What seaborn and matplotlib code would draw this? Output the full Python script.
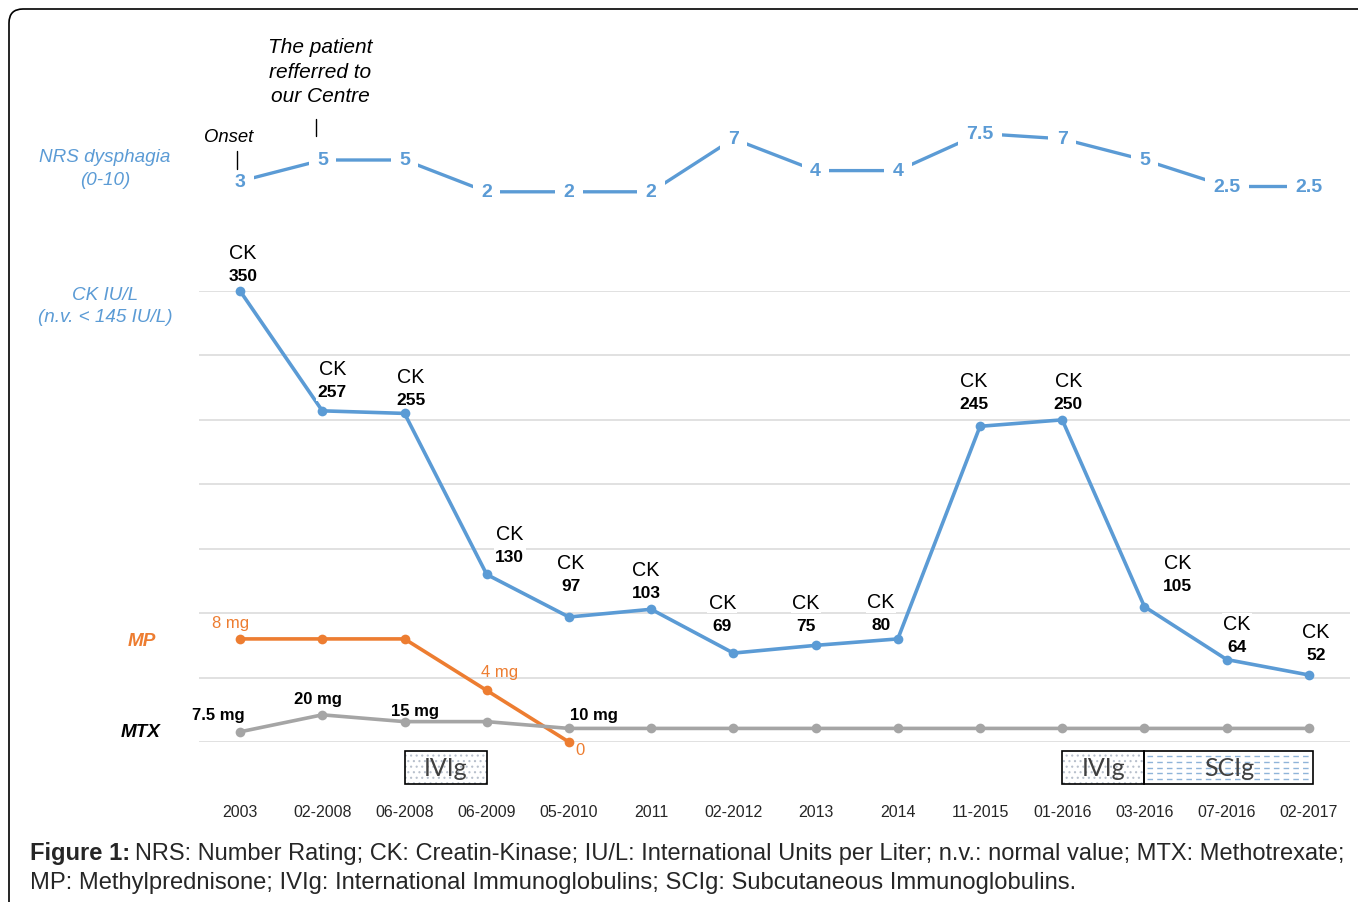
import matplotlib
matplotlib.use('Agg')
import matplotlib.pyplot as plt
import seaborn as sns
import numpy as np
from matplotlib.patches import Rectangle, FancyBboxPatch
from matplotlib.transforms import blended_transform_factory, IdentityTransform

# ====== DATA

dates = ['2003', '02-2008', '06-2008', '06-2009', '05-2010', '2011', '02-2012',
         '2013', '2014', '11-2015', '01-2016', '03-2016', '07-2016', '02-2017']
nrs = [3, 5, 5, 2, 2, 2, 7, 4, 4, 7.5, 7, 5, 2.5, 2.5]
nrs_labels = ['3', '5', '5', '2', '2', '2', '7', '4', '4', '7.5', '7', '5', '2.5', '2.5']
ck = [350, 257, 255, 130, 97, 103, 69, 75, 80, 245, 250, 105, 64, 52]
mp = [8, 8, 8, 4, 0]
mp_labels = ['8 mg', None, None, '4 mg', '0']
mtx = [7.5, 20, 15, 15, 10, 10, 10, 10, 10, 10, 10, 10, 10, 10]
mtx_labels = ['7.5 mg', '20 mg', '15 mg', None, '10 mg'] + [None] * 9
ivig_periods = [(2, 3), (10, 11)]
scig_periods = [(11, 13.05)]

# label offsets in pixels (dx, dy up)
ck_offsets = [(3, 15), (10, 19), (6, 14), (23, 18), (2, 32), (-5, 17), (-11, 28),
              (-10, 20), (-17, 14), (-6, 23), (6, 16), (33, 21), (10, 13), (7, 20)]
mp_offsets = [(-10, 16), None, None, (13, 19), (11, -8)]
mtx_offsets = [(-22, 17), (-4, 16), (10, 11), None, (25, 14)] + [None] * 9

# ====== STYLE

sns.set_style('white')
plt.rcParams['font.family'] = ['Liberation Sans', 'DejaVu Sans']
plt.rcParams['hatch.linewidth'] = 0.8

BLUE = '#5b9bd5'
ORANGE = '#ed7d31'
GREY = '#a5a5a5'
W, H = 1358, 903


def fx(px):
    return px / W


def fy(py):
    return 1 - py / H


fig = plt.figure(figsize=(W / 100, H / 100), dpi=100)

# outer frame (only top/left edge visible)
frame = FancyBboxPatch((9, -200), 2000, (H - 10) + 200, boxstyle='round,pad=0,rounding_size=14',
                       transform=IdentityTransform(), fill=False, edgecolor='black', linewidth=1.2)
fig.add_artist(frame)

x = np.arange(len(dates))

# ====== CK AXES
left, right, top, bottom = 199, 1350, 292, 743
ax = fig.add_axes([fx(left), fy(bottom), fx(right - left), (bottom - top) / H])
ax.set_xlim(-0.5, 13.5)
ax.set_ylim(0, 350)
ax.set_yticks(np.arange(0, 351, 50))
ax.set_yticklabels([])
ax.tick_params(axis='y', length=0)
ax.yaxis.grid(True, color='#d9d9d9', linewidth=1.1)
ax.set_axisbelow(True)
sns.despine(ax=ax, left=True, bottom=True)
ax.set_facecolor('none')

sns.lineplot(x=x, y=ck, ax=ax, color=BLUE, linewidth=2.6, marker='o', markersize=7,
             markeredgewidth=0, zorder=3)
ax.set_xticks(x)
ax.set_xticklabels(dates, fontsize=11.5, color='#262626')
ax.tick_params(axis='x', length=0, pad=45)
ax.set_xlabel('')
ax.set_ylabel('')

for i, v in enumerate(ck):
    dx, dy = ck_offsets[i]
    ax.annotate(str(v), (i, v), xytext=(dx, dy), textcoords='offset pixels', ha='center', va='center',
                fontsize=12.5, fontweight='bold', color='black',
                bbox=dict(facecolor='white', edgecolor='none', pad=1.0), zorder=4)
    ax.annotate('CK', (i, v), xytext=(dx, dy + 23), textcoords='offset pixels', ha='center', va='center',
                fontsize=14.2, color='black',
                bbox=dict(facecolor='white', edgecolor='none', pad=1.0), zorder=4)

# ====== MP AXES
ax_mp = ax.twinx()
ax_mp.set_ylim(0, 35)
ax_mp.axis('off')
sns.lineplot(x=x[:len(mp)], y=mp, ax=ax_mp, color=ORANGE, linewidth=2.6, marker='o', markersize=7,
             markeredgewidth=0, zorder=3)
for i, lab in enumerate(mp_labels):
    if lab is None:
        continue
    dx, dy = mp_offsets[i]
    ax_mp.annotate(lab, (i, mp[i]), xytext=(dx, dy), textcoords='offset pixels', ha='center',
                   va='center', fontsize=12, color=ORANGE)

# ====== MTX AXES
ax_mtx = ax.twinx()
ax_mtx.set_ylim(0, 332)
ax_mtx.axis('off')
sns.lineplot(x=x, y=mtx, ax=ax_mtx, color=GREY, linewidth=2.6, marker='o', markersize=7,
             markeredgewidth=0, zorder=2)
for i, lab in enumerate(mtx_labels):
    if lab is None:
        continue
    dx, dy = mtx_offsets[i]
    ax_mtx.annotate(lab, (i, mtx[i]), xytext=(dx, dy), textcoords='offset pixels', ha='center',
                    va='center', fontsize=12, fontweight='bold', color='black')

for a in (ax, ax_mp, ax_mtx):
    for ln in a.lines:
        ln.set_clip_on(False)

# ====== NRS AXES
ax_nrs = fig.add_axes([fx(left), fy(214), fx(right - left), 106 / H])
ax_nrs.set_xlim(-0.5, 13.5)
ax_nrs.set_ylim(0, 10)
ax_nrs.axis('off')
sns.lineplot(x=x, y=nrs, ax=ax_nrs, color=BLUE, linewidth=2.4)
for i, v in enumerate(nrs):
    ax_nrs.text(i, v, nrs_labels[i], ha='center', va='center', fontsize=14, fontweight='bold',
                color=BLUE, bbox=dict(facecolor='white', edgecolor='none', pad=6), zorder=4)

# ====== TREATMENT BOXES
trans = blended_transform_factory(ax.transData, fig.transFigure)
box_y, box_h = fy(785), 33 / H


def treatment_box(x0, x1, label, kind):
    if kind == 'dots':
        ax.add_patch(Rectangle((x0, box_y), x1 - x0, box_h, transform=trans, facecolor='white',
                               edgecolor='#b8c0cc', hatch='...', linewidth=0, clip_on=False))
    else:
        for yy in np.linspace(box_y + box_h * 0.14, box_y + box_h * 0.86, 5):
            ax.plot([x0 + 0.03, x1 - 0.03], [yy, yy], transform=trans, color='#8fb4d9',
                    linewidth=1, dashes=(4, 3), clip_on=False)
    ax.add_patch(Rectangle((x0, box_y), x1 - x0, box_h, transform=trans, fill=False,
                           edgecolor='black', linewidth=1.2, clip_on=False))
    ax.text((x0 + x1) / 2, box_y + box_h / 2, label, transform=trans, ha='center', va='center',
            fontsize=18, color='#404040', family='Lato')


for x0, x1 in ivig_periods:
    treatment_box(x0, x1, 'IVIg', 'dots')
for x0, x1 in scig_periods:
    treatment_box(x0, x1, 'SCIg', 'dashes')

# ====== SIDE LABELS
side = dict(ha='center', va='center', fontsize=13.6, style='italic')
fig.text(fx(105), fy(157), 'NRS dysphagia', color=BLUE, **side)
fig.text(fx(105), fy(181), '(0-10)', color=BLUE, **side)
fig.text(fx(105), fy(295), 'CK IU/L', color=BLUE, **side)
fig.text(fx(105), fy(318), '(n.v. < 145 IU/L)', color=BLUE, **side)
fig.text(fx(142), fy(641), 'MP', fontweight='bold', color=ORANGE, **side)
fig.text(fx(141), fy(733), 'MTX', fontweight='bold', color='black', **side)

# annotations above NRS
fig.text(fx(229), fy(137), 'Onset', ha='center', va='center', fontsize=13.3, style='italic', color='black')
fig.add_artist(plt.Line2D([fx(237), fx(237)], [fy(152), fy(170)], color='black', linewidth=1))
fig.text(fx(320), fy(72), 'The patient\nrefferred to\nour Centre', ha='center', va='center', fontsize=15,
         style='italic', color='black', linespacing=1.35)
fig.add_artist(plt.Line2D([fx(316), fx(316)], [fy(120), fy(137)], color='black', linewidth=1))

# ====== CAPTION
renderer = fig.canvas.get_renderer()
t = fig.text(fx(30), fy(854), 'Figure 1:', ha='left', va='center', fontsize=17.1, fontweight='bold')
bb = t.get_window_extent(renderer=renderer)
fig.text((bb.x1 + 5) / W, fy(854),
         'NRS: Number Rating; CK: Creatin-Kinase; IU/L: International Units per Liter; n.v.: normal value; MTX: Methotrexate;',
         ha='left', va='center', fontsize=17.0)
fig.text(fx(30), fy(883),
         'MP: Methylprednisone; IVIg: International Immunoglobulins; SCIg: Subcutaneous Immunoglobulins.',
         ha='left', va='center', fontsize=17.1)

fig.savefig('out.png', dpi=100)
